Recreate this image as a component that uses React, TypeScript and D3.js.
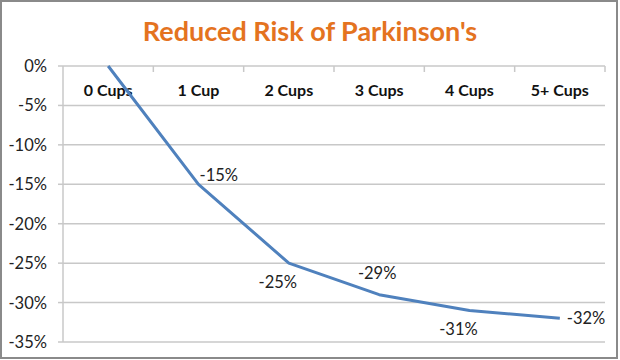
import React from "react";
import * as d3 from "d3";

const categories = ["0 Cups", "1 Cup", "2 Cups", "3 Cups", "4 Cups", "5+ Cups"];
const values = [0, -15, -25, -29, -31, -32];
const yTicks = [0, -5, -10, -15, -20, -25, -30, -35];
const labelPos = ["none", "aboveRight", "below", "above", "below", "right"];

const W = 620, H = 360;
const left = 63, right = 605, top = 66, bottom = 342;
const FONT = "Lato, 'Open Sans', sans-serif";

export default function App() {
  const x = d3.scaleBand<string>().domain(categories).range([left, right]).padding(0);
  const y = d3.scaleLinear().domain([-35, 0]).range([bottom, top]);
  const cx = (c: string) => (x(c) as number) + x.bandwidth() / 2;
  const line = d3.line<number>().x((_, i) => cx(categories[i])).y((d) => y(d));
  const pts = values.map((v, i) => ({ v, x: cx(categories[i]), y: y(v), pos: labelPos[i] }));
  return (
    <svg width={W} height={H} style={{ position: "absolute", left: 0, top: 0, background: "#fff" }} fontFamily={FONT}>
      <rect x={1} y={1} width={W - 4} height={H - 3} fill="#fff" stroke="#8a8a8a" strokeWidth={2} />
      <text x={310} y={41} textAnchor="middle" fontSize={27} fontWeight="bold" fill="#e4731f">Reduced Risk of Parkinson's</text>
      {yTicks.map((t) => (
        <g key={t}>
          <line x1={left} x2={right} y1={y(t)} y2={y(t)} stroke="#c8c8c8" strokeWidth={1.5} />
          <line x1={left - 5} x2={left} y1={y(t)} y2={y(t)} stroke="#c8c8c8" strokeWidth={1.5} />
          <text x={47} y={y(t) + 6} textAnchor="end" fontSize={16.5} fill="#222">{t}%</text>
        </g>
      ))}
      <line x1={left} x2={left} y1={top} y2={bottom} stroke="#c8c8c8" strokeWidth={1.5} />
      {categories.map((c, i) => (
        <line key={"t" + i} x1={(x(c) as number) + x.bandwidth()} x2={(x(c) as number) + x.bandwidth()} y1={top} y2={top + 6} stroke="#c8c8c8" strokeWidth={1.5} />
      ))}
      {categories.map((c) => (
        <text key={c} x={cx(c)} y={96} textAnchor="middle" fontSize={16} fontWeight="bold" fill="#111">{c}</text>
      ))}
      <path d={line(values) || ""} fill="none" stroke="#4f81bd" strokeWidth={3} strokeLinejoin="round" />
      {pts.map((p, i) => {
        if (p.pos === "none") return null;
        let tx = p.x, ty = p.y, anchor: "start" | "middle" | "end" = "middle";
        if (p.pos === "aboveRight") { tx = p.x + 1; ty = p.y - 3; anchor = "start"; }
        if (p.pos === "below") { tx = p.x - 11; ty = p.y + 25; }
        if (p.pos === "above") { tx = p.x - 2; ty = p.y - 16; }
        if (p.pos === "right") { tx = p.x + 7; ty = p.y + 6; anchor = "start"; }
        return (
          <text key={i} x={tx} y={ty} textAnchor={anchor} fontSize={16.5} fill="#222">{p.v}%</text>
        );
      })}
    </svg>
  );
}
